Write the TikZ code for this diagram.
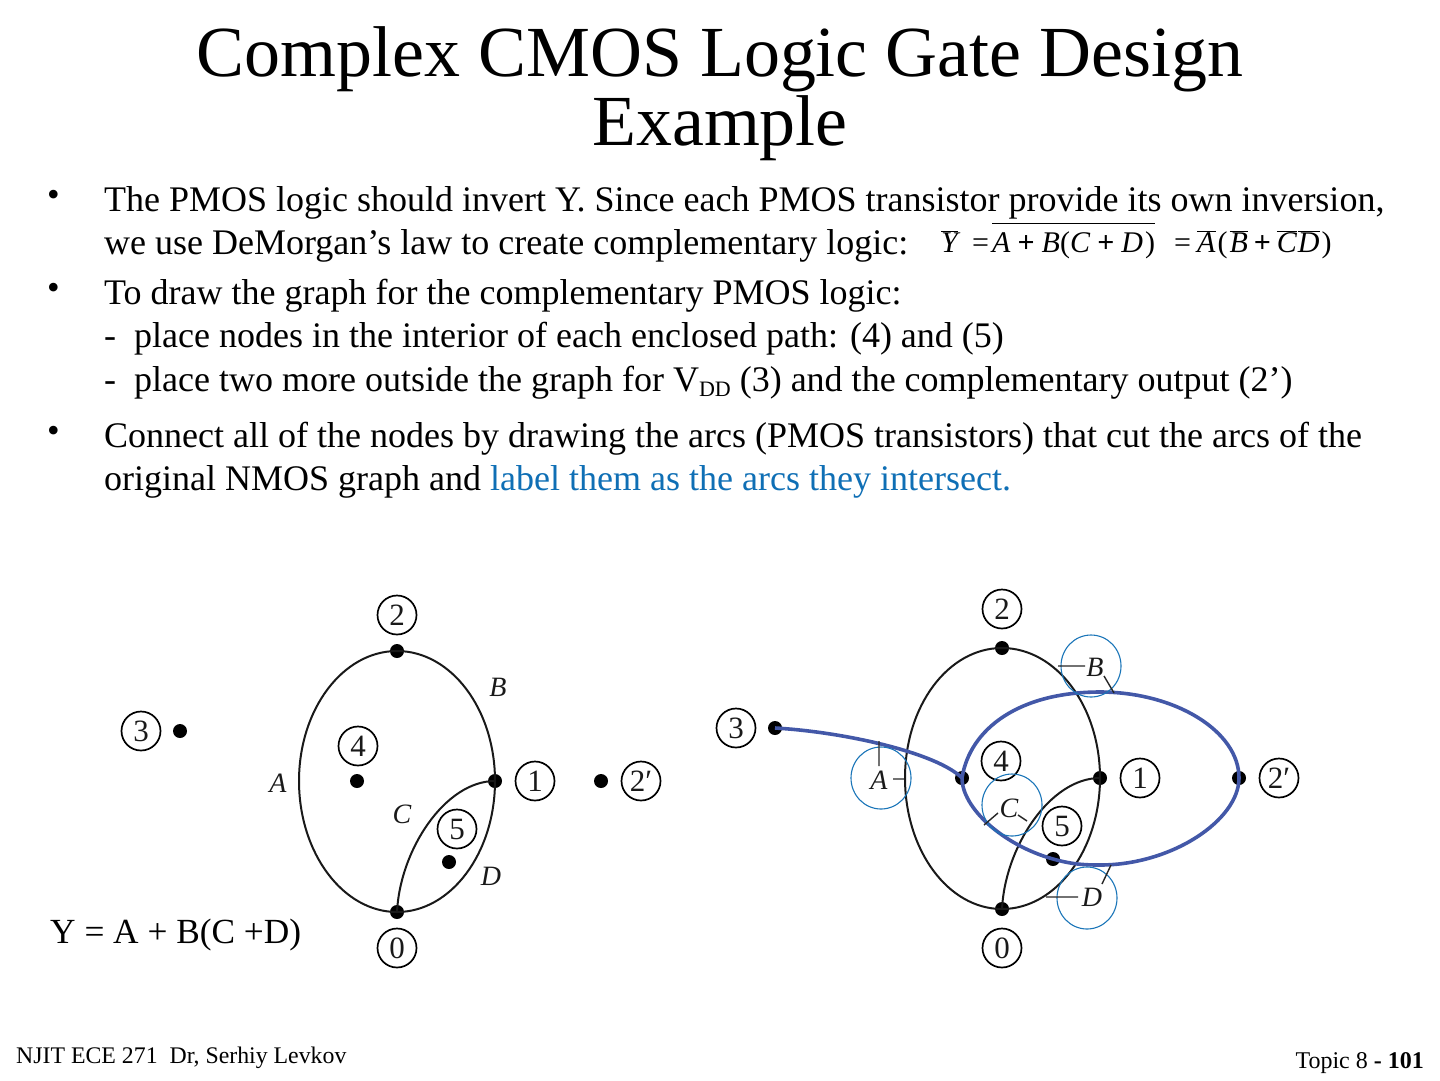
\documentclass[tikz,border=0pt]{standalone}
\usepackage{fontspec}
\setmainfont{Liberation Serif}
\definecolor{bluetxt}{HTML}{0F6FB5}
\definecolor{bluering}{HTML}{1A75B8}
\definecolor{blueline}{HTML}{4358A8}
\newcommand{\fs}[1]{\fontsize{#1}{#1}\selectfont}
\newcommand{\ovl}[1]{$\overline{\hbox{\itshape #1}}$}
\newcommand{\itl}[1]{\textit{#1}}
\newcommand{\pls}{\hspace{7pt}\textbf{+}\hspace{7pt}}
\newcommand{\plt}{\hspace{6pt}\textbf{+}\hspace{6pt}}
\tikzset{
 lt/.style={anchor=base west,inner sep=0pt,font=\fs{36}},
 rt/.style={anchor=base east,inner sep=0pt},
 ttl/.style={anchor=base,inner sep=0pt,font=\fs{71.9}},
 numc/.style={circle,draw=black,line width=1.7pt,minimum size=39pt,inner sep=0pt,font=\fs{31},text=black!90},
 dotn/.style={circle,fill=black,minimum size=14pt,inner sep=0pt},
 arc/.style={draw=black!90,line width=2pt},
 tick/.style={draw=black!85,line width=1.4pt},
 lab/.style={inner sep=0pt,font=\fs{28}\itshape,text=black!90},
 ring/.style={ellipse,draw=bluering,line width=1.1pt,minimum width=60pt,minimum height=62pt,inner sep=0pt},
 pth/.style={draw=blueline,line width=3.6pt},
 eq/.style={anchor=base west,inner sep=0pt,font=\fs{30}},
}
\usetikzlibrary{shapes.geometric}
\begin{document}
\begin{tikzpicture}[x=1pt,y=-1pt]
\useasboundingbox (0,0) rectangle (1440,1080);
% title
\node[ttl] (t1) at (720,76) {Complex CMOS Logic Gate Design};
\node[ttl] (t2) at (720,145) {Example};
% body
\node[lt] (b1) at (47,206) {•};
\node[lt] (l1) at (104,211) {The PMOS logic should invert Y. Since each PMOS transistor provide its own inversion,};
\node[lt] (l2) at (104,254) {we use DeMorgan’s law to create complementary logic:};
\node[lt] (b2) at (47,299) {•};
\node[lt] (l3) at (104,304) {To draw the graph for the complementary PMOS logic:};
\node[lt] (l4) at (104,347) {-\ \ place nodes in the interior of each enclosed path: (4) and (5)};
\node[lt] (l5) at (104,391) {-\ \ place two more outside the graph for V\raisebox{-5pt}{\fs{22}DD} (3) and the complementary output (2’)};
\node[lt] (b3) at (47,442) {•};
\node[lt] (l6) at (104,447) {Connect all of the nodes by drawing the arcs (PMOS transistors) that cut the arcs of the};
\node[lt] (l7) at (104,490) {original NMOS graph and \textcolor{bluetxt}{label them as the arcs they intersect.}};
% formula
\node[eq] (e1) at (941,252) {\ovl{Y}};
\node[eq] (e2) at (972,252) {=};
\node[eq] (e3) at (992,252) {$\overline{\hbox{\rule{0pt}{27pt}\itl{A}\pls\itl{B}(\itl{C}\pls\itl{D}\hspace{2pt})}}$};
\node[eq] (e4) at (1174,252) {=};
\node[eq] (e5) at (1197,252) {\ovl{A}\hspace{2pt}(\hspace{2pt}\ovl{B}\plt\ovl{C}\hspace{1pt}\ovl{D}\hspace{2pt})};
% left graph
\node[numc] (a2) at (397,615) {2};
\node[numc] (a0) at (397,948) {0};
\node[numc] (a1) at (535,781) {1};
\node[numc] (a2p) at (641,781) {2′};
\node[numc] (a3) at (141,731) {3};
\node[numc] (a4) at (358,746) {4};
\node[numc] (a5) at (457,829) {5};
\node[dotn] (da2) at (397,651) {};
\node[dotn] (da0) at (397,912) {};
\node[dotn] (da1) at (495,781) {};
\node[dotn] (da3) at (180,731) {};
\node[dotn] (da4) at (357,781) {};
\node[dotn] (da5) at (449,862) {};
\node[dotn] (da2p) at (601,781) {};
\draw[arc] (da2.center) .. controls +(54,0) and +(0,-72) .. (da1.center)
           .. controls +(0,72) and +(54,0) .. (da0.center)
           .. controls +(-54,0) and +(0,72) .. (299,781)
           .. controls +(0,-72) and +(-54,0) .. (da2.center);
\draw[arc] (da0.center) .. controls +(3,-62) and +(-50,0) .. (da1.center);
\node[lab] (la) at (278,783) {A};
\node[lab] (lb) at (498,687) {B};
\node[lab] (lc) at (402,814) {C};
\node[lab] (ld) at (491,876) {D};
\node[anchor=base west,inner sep=0pt,font=\fs{35.3}] (yeq) at (50,943) {Y = A + B(C +D)};
% right graph
\node[numc] (r2) at (1002,609) {2};
\node[numc] (r0) at (1002,948) {0};
\node[numc] (r1) at (1140,778) {1};
\node[numc] (r2p) at (1279,778) {2′};
\node[numc] (r3) at (736,728) {3};
\node[numc] (r4) at (1001,761) {4};
\node[numc] (r5) at (1062,826) {5};
\node[dotn] (dr2) at (1002,648) {};
\node[dotn] (dr0) at (1002,909) {};
\node[dotn] (dr1) at (1100,778) {};
\node[dotn] (dr3) at (775,728) {};
\node[dotn] (dr4) at (962,778) {};
\node[dotn] (dr5) at (1053,859) {};
\node[dotn] (dr2p) at (1239,778) {};
\draw[arc] (dr2.center) .. controls +(54,0) and +(0,-72) .. (dr1.center)
           .. controls +(0,72) and +(54,0) .. (dr0.center)
           .. controls +(-54,0) and +(0,72) .. (905,778)
           .. controls +(0,-72) and +(-54,0) .. (dr2.center);
\draw[arc] (dr0.center) .. controls +(3,-62) and +(-50,0) .. (dr1.center);
\draw[pth] (dr3.center) .. controls +(70,4) and +(-25,-25) .. (dr4.center)
           .. controls +(8,-50) and +(-80,0) .. (1100,692)
           .. controls +(75,0) and +(0,-47) .. (dr2p.center)
           .. controls +(0,42) and +(72,0) .. (1100,865)
           .. controls +(-18,0) and +(18,5) .. (dr5.center)
           .. controls +(-50,-14) and +(0,30) .. (dr4.center);
\node[lab] (ra) at (879,780) {A};
\node[lab] (rb) at (1095,667) {B};
\node[lab] (rc) at (1009,808) {C};
\node[lab] (rd) at (1092,897) {D};
\node[ring] (ca) at (881,778) {};
\node[ring] (cb) at (1091,666) {};
\node[ring] (cc) at (1012,805) {};
\node[ring] (cd) at (1087,898) {};
\coordinate (ta1) at (879,741); \coordinate (ta2) at (879,766);
\coordinate (ta3) at (893,779); \coordinate (ta4) at (904,779);
\coordinate (tb1) at (1058,666); \coordinate (tb2) at (1085,666);
\coordinate (tb3) at (1104,676); \coordinate (tb4) at (1114,693);
\coordinate (tc1) at (998,813); \coordinate (tc2) at (984,825);
\coordinate (tc3) at (1018,815); \coordinate (tc4) at (1027,821);
\coordinate (td1) at (1046,897); \coordinate (td2) at (1078,897);
\coordinate (td3) at (1102,884); \coordinate (td4) at (1111,865);
\draw[tick] (ta1)--(ta2) (ta3)--(ta4) (tb1)--(tb2) (tb3)--(tb4) (tc1)--(tc2) (tc3)--(tc4) (td1)--(td2) (td3)--(td4);
% footer
\node[anchor=base west,inner sep=0pt,font=\fs{23.8}] (f1) at (16,1063) {NJIT ECE 271\ \ Dr, Serhiy Levkov};
\node[rt,font=\fs{24}] (f2) at (1424,1068) {Topic 8 \textbf{- 101}};
\end{tikzpicture}
\end{document}
